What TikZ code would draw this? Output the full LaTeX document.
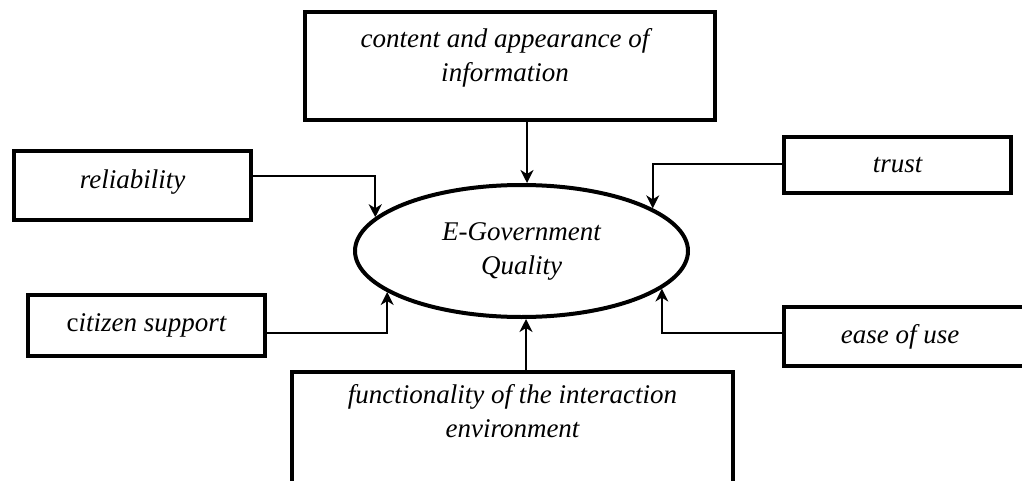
\documentclass[tikz,border=0pt]{standalone}
\usepackage{fontspec}
\setmainfont{Liberation Serif}
\usetikzlibrary{arrows.meta,shapes.geometric}
\tikzset{
  % boxes are drawn empty, their texts are put on top of them
  box/.style={draw, rectangle, line width=2pt, inner sep=0pt},
  lbl/.style={font=\fontsize{13.5}{17}\selectfont\itshape, align=center},
  link/.style={line width=0.8pt, -{Stealth[length=6.5pt,width=6.5pt,inset=2pt]}}}

\begin{document}
\begin{tikzpicture}[x=0.5pt, y=-0.5pt]
\useasboundingbox (0,0) rectangle (1022,481);
\clip (0,0) rectangle (1022,481);

\draw (521.5,251) node (egov) [ellipse, draw, line width=2pt, minimum width=166.5pt, minimum height=66pt, inner sep=0pt, lbl] {E-Government\\Quality};

\draw (510,66) node (info) [box, minimum width=205pt, minimum height=54pt] {};
\draw ([xshift=-2.5pt, yshift=4pt]info.center) node (infotxt) [lbl] {content and appearance of\\information};

\draw (132.5,185.5) node (rel) [box, minimum width=118.5pt, minimum height=34.5pt] {};
\draw ([yshift=1.75pt]rel.center) node (reltxt) [lbl] {reliability};

\draw (146.5,325.5) node (cit) [box, minimum width=118.5pt, minimum height=30.5pt] {};
\draw (cit.center) node (cittxt) [lbl] {\textup{c}itizen support};

\draw (897.5,165) node (trust) [box, minimum width=113.5pt, minimum height=28pt] {};
\draw (trust.center) node (trusttxt) [lbl] {trust};

\draw (912,336.5) node (ease) [box, minimum width=128pt, minimum height=29.5pt] {};
\draw ([xshift=59pt]ease.west) node (easetxt) [lbl] {ease of use};

\draw (512.5,436) node (func) [box, minimum width=220.5pt, minimum height=64pt] {};
\draw ([yshift=-20.75pt]func.north) node (functxt) [lbl] {functionality of the interaction\\environment};

% connectors
\draw [link, line width=1pt] ([xshift=8.5pt]info.south) -- ([xshift=2.75pt]egov.north);
\draw [link, line width=1pt] ([xshift=6.75pt]func.north) -- ([xshift=2.25pt]egov.south);
\draw [link] ([yshift=4.75pt]rel.east) -| (egov.167);
\draw [link] ([yshift=-3.75pt]cit.east) -| (egov.197);
\draw [link] ([yshift=0.5pt]trust.west) -| (egov.18);
\draw [link] ([yshift=1.75pt]ease.west) -| (egov.345);

\end{tikzpicture}
\end{document}
